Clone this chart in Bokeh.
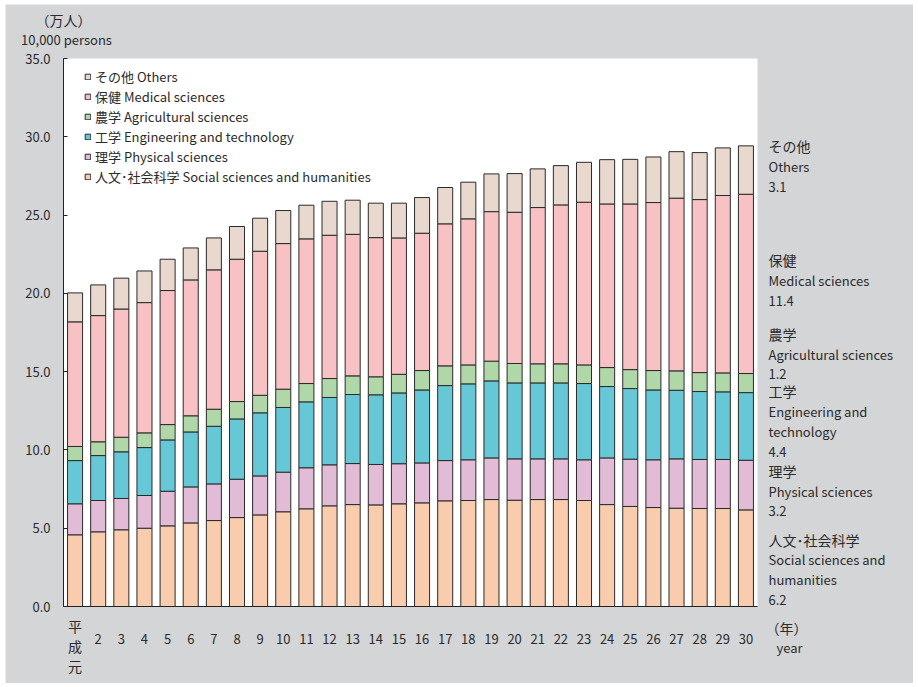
from bokeh.plotting import figure
from bokeh.models import ColumnDataSource, Legend, LegendItem, Label, FixedTicker, NumeralTickFormatter, Range1d
from bokeh.embed import file_html
from bokeh.resources import INLINE

# ---- data (10,000 persons) ----
years = ["平成元"] + [str(i) for i in range(2, 31)]
social = [4.58, 4.77, 4.90, 5.00, 5.15, 5.34, 5.49, 5.68, 5.85, 6.05,
          6.24, 6.43, 6.51, 6.49, 6.56, 6.62, 6.75, 6.77, 6.83, 6.79,
          6.83, 6.83, 6.77, 6.51, 6.39, 6.32, 6.28, 6.26, 6.26, 6.17]
physical = [1.98, 2.00, 2.00, 2.09, 2.21, 2.30, 2.34, 2.45, 2.49, 2.53,
            2.62, 2.62, 2.62, 2.58, 2.56, 2.55, 2.57, 2.60, 2.66, 2.64,
            2.60, 2.60, 2.60, 2.98, 3.02, 3.05, 3.15, 3.13, 3.13, 3.17]
engineering = [2.76, 2.87, 2.98, 3.06, 3.28, 3.51, 3.68, 3.85, 4.03, 4.13,
               4.21, 4.30, 4.41, 4.45, 4.52, 4.66, 4.79, 4.85, 4.92, 4.85,
               4.85, 4.85, 4.87, 4.56, 4.51, 4.46, 4.38, 4.34, 4.32, 4.32]
agricultural = [0.90, 0.88, 0.93, 0.94, 0.98, 1.03, 1.09, 1.11, 1.12, 1.17,
                1.17, 1.21, 1.19, 1.15, 1.19, 1.24, 1.26, 1.21, 1.26, 1.24,
                1.22, 1.22, 1.19, 1.21, 1.21, 1.24, 1.24, 1.21, 1.21, 1.22]
medical = [7.96, 8.06, 8.19, 8.32, 8.56, 8.68, 8.90, 9.09, 9.20, 9.30,
           9.24, 9.15, 9.04, 8.89, 8.71, 8.77, 9.07, 9.33, 9.55, 9.66,
           9.98, 10.15, 10.39, 10.45, 10.58, 10.73, 11.03, 11.05, 11.33, 11.45]
others = [1.85, 1.96, 1.97, 2.02, 2.00, 2.04, 2.04, 2.09, 2.11, 2.11,
          2.15, 2.17, 2.18, 2.20, 2.22, 2.28, 2.32, 2.34, 2.41, 2.47,
          2.47, 2.51, 2.55, 2.83, 2.85, 2.91, 2.97, 3.00, 3.04, 3.09]
y_ticks = [0, 5, 10, 15, 20, 25, 30, 35]
Y_MAX = 35

series = ["social", "physical", "engineering", "agricultural", "medical", "others"]
legend_labels = ["人文･社会科学 Social sciences and humanities", "理学 Physical sciences",
                 "工学 Engineering and technology", "農学 Agricultural sciences",
                 "保健 Medical sciences", "その他 Others"]
colors = ["#F8CCAC", "#E2BBD7", "#66C8D6", "#B0D7A8", "#F8C2C4", "#E8D8CE"]

FONT = "Noto Sans CJK JP"
TXT = "#2b2b2b"

# ---- layout (page pixels) ----
OFF_X, OFF_Y = 5, 4            # figure position on the page (via margin)
W, H = 908, 679                # figure size
PL, PR, PT, PB = 63, 757, 58, 606   # white plot area on the page

n = len(years)
xs = list(range(1, n + 1))
x_lo, x_hi = 0.5, n + 0.5
ux = (PR - PL) / (x_hi - x_lo)
uy = (PB - PT) / Y_MAX
x_start = x_lo - (PL - OFF_X) / ux
x_end = x_hi + (OFF_X + W - PR) / ux
y_end = Y_MAX + (PT - OFF_Y) / uy
y_start = 0 - (OFF_Y + H - PB) / uy

src = ColumnDataSource(dict(x=xs, social=social, physical=physical, engineering=engineering,
                            agricultural=agricultural, medical=medical, others=others))

p = figure(width=W, height=H, output_backend="svg", toolbar_location=None,
           x_range=Range1d(x_start, x_end), y_range=Range1d(y_start, y_end),
           min_border=0, margin=(OFF_Y, 918 - W - OFF_X, 687 - H - OFF_Y, OFF_X))
p.background_fill_color = "#D4D5D7"
p.border_fill_color = "#D4D5D7"
p.outline_line_color = None
p.xgrid.visible = False
p.ygrid.visible = False

# white plot area
p.quad(left=[x_lo], right=[x_hi], bottom=[0], top=[Y_MAX], fill_color="white", line_color=None)

renderers = p.vbar_stack(series, x="x", width=0.65, source=src,
                         fill_color=colors, line_color="#2a2a2a", line_width=1)

# axes
ya = p.yaxis[0]
ya.fixed_location = x_lo
ya.bounds = (0, Y_MAX)
ya.ticker = FixedTicker(ticks=y_ticks)
ya.formatter = NumeralTickFormatter(format="0.0")
ya.major_tick_in = 4
ya.major_tick_out = 0
ya.minor_tick_line_color = None
ya.axis_line_color = "#222222"
ya.major_tick_line_color = "#222222"
ya.major_label_standoff = 13
ya.major_label_text_font = FONT
ya.major_label_text_font_size = "13px"
ya.major_label_text_color = TXT

xa = p.xaxis[0]
xa.fixed_location = 0
xa.bounds = (x_lo, x_hi)
xa.ticker = FixedTicker(ticks=xs)
xa.major_label_overrides = {i + 1: ("" if i == 0 else lab) for i, lab in enumerate(years)}
xa.major_tick_in = 0
xa.major_tick_out = 0
xa.minor_tick_line_color = None
xa.axis_line_color = "#222222"
xa.major_label_standoff = 27
xa.major_label_text_font = FONT
xa.major_label_text_font_size = "13px"
xa.major_label_text_color = TXT

# legend
items = [LegendItem(label=legend_labels[i], renderers=[renderers[i]]) for i in reversed(range(6))]
legend = Legend(items=items, location=(84 - OFF_X, H - (66 - OFF_Y) - 120),
                glyph_width=7, glyph_height=7,
                label_height=20, spacing=0, padding=0, margin=0,
                border_line_color=None, background_fill_alpha=0,
                label_standoff=4, label_text_font=FONT, label_text_font_size="13px",
                label_text_color=TXT)
p.add_layout(legend)


def add_text(text, px, py, size="13px", align="left"):
    p.add_layout(Label(x=px - OFF_X, y=H - (py - OFF_Y), x_units="screen", y_units="screen",
                       text=text, text_font=FONT, text_font_size=size, text_color=TXT,
                       text_baseline="middle", text_align=align))


# first x label (written vertically)
for k, ch in enumerate(years[0]):
    p.add_layout(Label(x=xs[0], y=H - (625 + 20 * k - OFF_Y), x_units="data", y_units="screen",
                       text=ch, text_font=FONT, text_font_size="14px", text_color=TXT,
                       text_baseline="middle", text_align="center"))

# axis titles
add_text("（万人）", 63, 19, "14px", "center")
add_text("10,000 persons", 66, 39, "13px", "center")
add_text("（年）", 786, 627, "14px", "center")
add_text("year", 789, 647, "13px", "center")

# right-side annotations (last year values)
last = {s: v[-1] for s, v in zip(series, [social, physical, engineering, agricultural, medical, others])}
right_blocks = [
    (["その他", "Others", f"{last['others']:.1f}"], [145, 166, 186]),
    (["保健", "Medical sciences", f"{last['medical']:.1f}"], [259, 280, 300]),
    (["農学", "Agricultural sciences", f"{last['agricultural']:.1f}"], [333, 354, 373]),
    (["工学", "Engineering and", "technology", "4.4"], [390, 411, 431, 451]),
    (["理学", "Physical sciences", f"{last['physical']:.1f}"], [470, 491, 510]),
    (["人文･社会科学", "Social sciences and", "humanities", f"{last['social']:.1f}"], [539, 559, 579, 599]),
]
for lines, ys in right_blocks:
    for j, (t, yy) in enumerate(zip(lines, ys)):
        add_text(t, 768, yy, "14px" if j == 0 else "13px")

open("out.html", "w").write(file_html(p, INLINE))
